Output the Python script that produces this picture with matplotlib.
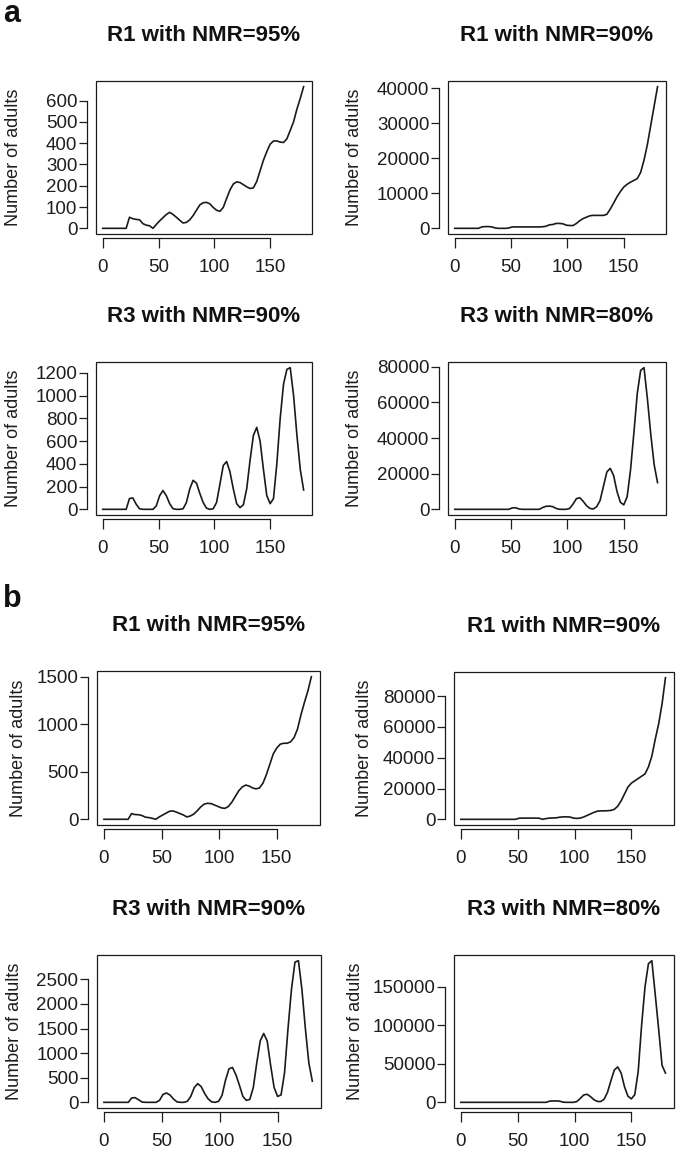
import matplotlib
matplotlib.use("Agg")
import matplotlib.pyplot as plt
from matplotlib.patches import Rectangle
from matplotlib.ticker import FuncFormatter

plt.rcParams['font.family'] = ['Liberation Sans', 'DejaVu Sans']

# ---------------- data ----------------
days = list(range(0, 181, 3))

a_r1_95 = [0, 0, 0, 0, 0, 0, 0, 0, 52, 45, 42, 40, 22, 15, 12, 0, 18, 35, 50, 65,
           75, 65, 52, 38, 25, 28, 40, 60, 85, 110, 120, 122, 115, 98, 85, 80, 98, 140,
           180, 208, 218, 215, 205, 195, 187, 190, 220, 270, 320, 360, 395, 410, 410,
           405, 403, 420, 460, 500, 560, 610, 665]
a_r1_90 = [0, 0, 0, 0, 0, 0, 0, 0, 400, 500, 500, 400, 100, 0, 0, 0, 100, 400, 400,
           400, 400, 400, 400, 400, 400, 400, 450, 600, 1000, 1100, 1400, 1400, 1300,
           900, 800, 800, 1400, 2200, 2800, 3200, 3600, 3700, 3700, 3700, 3700, 4000,
           5500, 7200, 9000, 10500, 11800, 12600, 13200, 13700, 14200, 16000, 19500,
           24000, 29500, 35000, 40500]
a_r3_90 = [0, 0, 0, 0, 0, 0, 0, 0, 95, 100, 45, 5, 0, 0, 0, 0, 30, 120, 165, 120,
           50, 5, 0, 0, 5, 60, 180, 255, 230, 140, 60, 10, 0, 5, 60, 220, 385, 420, 330,
           180, 50, 15, 40, 180, 430, 650, 720, 600, 350, 120, 50, 95, 400, 800, 1100,
           1230, 1245, 1000, 650, 350, 170]
a_r3_80 = [0, 0, 0, 0, 0, 0, 0, 0, 0, 0, 0, 0, 0, 0, 0, 0, 0, 800, 900, 200, 0,
           0, 0, 0, 0, 0, 1000, 1700, 1800, 1500, 500, 0, 0, 0, 500, 3000, 6000, 6500,
           4500, 2000, 500, 200, 1500, 5000, 13000, 21000, 23000, 19000, 10000, 4000,
           2500, 7000, 22000, 43000, 65000, 78000, 79500, 62000, 42000, 25000, 15000]

b_r1_95 = [0, 0, 0, 0, 0, 0, 0, 0, 60, 50, 48, 40, 22, 18, 10, 0, 25, 45, 65, 85,
           88, 75, 60, 45, 25, 35, 55, 90, 130, 160, 168, 165, 150, 135, 120, 115, 135,
           180, 240, 300, 340, 360, 350, 330, 320, 330, 380, 470, 580, 690, 750, 790,
           800, 800, 815, 860, 950, 1100, 1230, 1350, 1500]
b_r1_90 = [0, 0, 0, 0, 0, 0, 0, 0, 0, 0, 0, 0, 0, 0, 0, 0, 0, 700, 800, 800, 800,
           800, 800, 700, 0, 500, 800, 900, 1000, 1400, 1600, 1600, 1500, 800, 600, 800,
           1500, 2500, 3500, 4500, 5300, 5500, 5500, 5600, 5800, 6500, 8500, 12000,
           16500, 21000, 23500, 25000, 26500, 28000, 29500, 34000, 41000, 52000, 62000,
           75000, 92000]
b_r3_90 = [0, 0, 0, 0, 0, 0, 0, 0, 90, 95, 50, 5, 0, 0, 0, 0, 40, 160, 190, 150,
           70, 10, 0, 0, 20, 120, 300, 380, 320, 180, 70, 10, 0, 20, 140, 450, 680, 710,
           560, 350, 120, 40, 60, 300, 800, 1250, 1400, 1250, 750, 300, 120, 150, 600,
           1500, 2300, 2850, 2880, 2300, 1500, 800, 430]
b_r3_80 = [0, 0, 0, 0, 0, 0, 0, 0, 0, 0, 0, 0, 0, 0, 0, 0, 0, 0, 0, 0, 0, 0, 0, 0,
           0, 0, 1500, 1800, 1800, 1500, 200, 0, 0, 0, 1000, 5000, 9500, 10500, 7500,
           3500, 1200, 1000, 4000, 13000, 28000, 42000, 46000, 38000, 20000, 8000, 4500,
           10000, 40000, 100000, 150000, 180000, 184000, 140000, 95000, 48000, 38000]

titles = ["R1 with NMR=95%", "R1 with NMR=90%", "R3 with NMR=90%", "R3 with NMR=80%",
          "R1 with NMR=95%", "R1 with NMR=90%", "R3 with NMR=90%", "R3 with NMR=80%"]
series = [a_r1_95, a_r1_90, a_r3_90, a_r3_80, b_r1_95, b_r1_90, b_r3_90, b_r3_80]
yticks = [list(range(0, 601, 100)), list(range(0, 40001, 10000)),
          list(range(0, 1201, 200)), list(range(0, 80001, 20000)),
          list(range(0, 1501, 500)), list(range(0, 80001, 20000)),
          list(range(0, 2501, 500)), list(range(0, 150001, 50000))]
xticks = [0, 50, 100, 150]
ylabel = "Number of adults"
panel_letters = ["a", "b"]

# ---------------- layout (pixels: left, right, top, bottom) ----------------
W, H = 682, 1156
boxes = [(96, 312, 81, 234), (448, 666, 81, 234),
         (96, 312, 362, 515), (448, 666, 362, 515),
         (97, 320, 671, 825), (454, 674, 672, 825),
         (97, 321, 955, 1108), (454, 674, 955, 1108)]
ylab_off = [74, 85, 74, 85, 70, 81, 74, 90]

fig = plt.figure(figsize=(W / 100, H / 100), dpi=100)
txt = '#1e1e1e'
lc = '#1a1a1a'

for i, (l, r, t, b) in enumerate(boxes):
    ax = fig.add_axes([l / W, 1 - b / H, (r - l) / W, (b - t) / H])
    ax.plot(days, series[i], color=lc, lw=1.2)
    ax.set_xlim(-6, 187.5)
    ax.margins(y=0.04)
    ax.set_xticks(xticks)
    ax.set_yticks(yticks[i])
    ax.yaxis.set_major_formatter(FuncFormatter(lambda v, p: f"{v:.0f}"))
    for s in ['top', 'right']:
        ax.spines[s].set_visible(False)
    ax.spines['left'].set_position(('outward', 6.5))
    ax.spines['bottom'].set_position(('outward', 3))
    ax.spines['left'].set_bounds(yticks[i][0], yticks[i][-1])
    ax.spines['bottom'].set_bounds(xticks[0], xticks[-1])
    for s in ['left', 'bottom']:
        ax.spines[s].set_linewidth(0.9)
        ax.spines[s].set_color(lc)
    ax.add_patch(Rectangle((0, 0), 1, 1, transform=ax.transAxes, fill=False,
                           lw=0.9, edgecolor=lc, clip_on=False))
    ax.tick_params(axis='y', length=5.5, width=0.9, pad=1.5, labelsize=13.5,
                   colors=txt)
    ax.tick_params(axis='x', length=7, width=0.9, pad=8, labelsize=13.5,
                   colors=txt)
    ax.set_ylabel(ylabel, fontsize=13, color=txt)
    ax.yaxis.set_label_coords(-ylab_off[i] / (r - l), 0.5)
    ax.set_title(titles[i], fontsize=16, fontweight='bold', color='#111111', pad=29)

fig.text(3 / W, 1 - 22 / H, panel_letters[0], fontsize=22, fontweight='bold',
         va='baseline', ha='left', color='#111111')
fig.text(3 / W, 1 - 607 / H, panel_letters[1], fontsize=22, fontweight='bold',
         va='baseline', ha='left', color='#111111')

fig.savefig("out.png", dpi=100, facecolor='white')
